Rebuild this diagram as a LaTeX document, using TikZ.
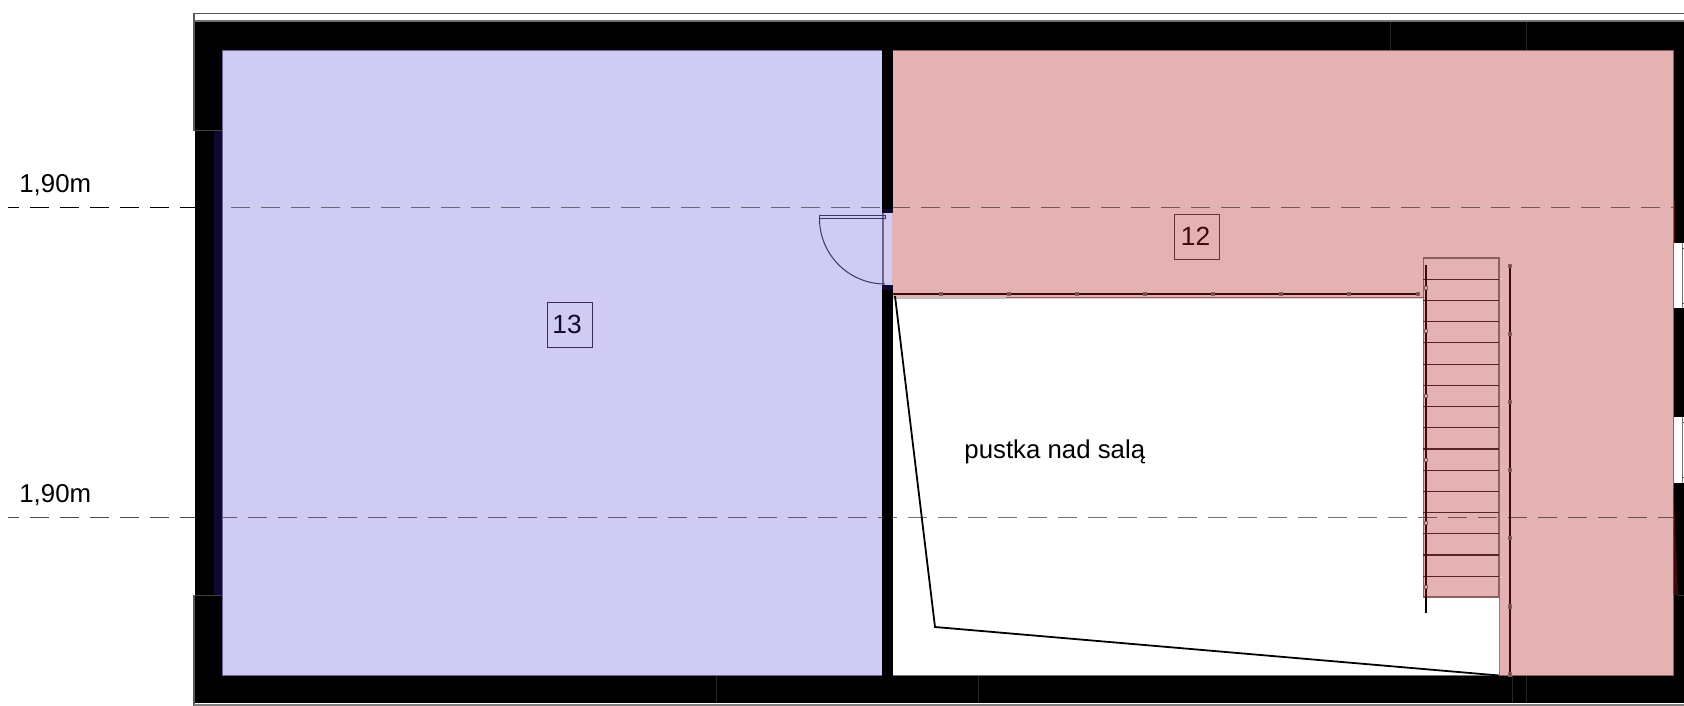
\documentclass[tikz,border=0pt]{standalone}
\usepackage{fontspec}
\setmainfont{Liberation Sans}
\definecolor{roomP}{HTML}{D0CBF2}
\definecolor{roomR}{HTML}{E4B2B2}
\definecolor{edgeP}{HTML}{6A6496}
\definecolor{edgeR}{HTML}{8E5F62}
\definecolor{inkP}{HTML}{100830}
\definecolor{inkR}{HTML}{3C0A0A}
\definecolor{doorInk}{HTML}{3A3566}
\tikzset{
  wall/.style={fill=black,draw=none},
  joint/.style={draw=black!85!white,line width=.3pt},
  tagbox/.style={draw,line width=.65pt,minimum size=22.6bp,inner sep=0pt},
  tagtext/.style={inner sep=0pt,font=\fontsize{13.2pt}{15pt}\selectfont},
  plain/.style={inner sep=0pt,font=\fontsize{12.95pt}{15pt}\selectfont,text=black,anchor=base west},
  level/.style={line width=.6pt,dash pattern=on 9.5bp off 5.5bp},
  tread/.style={draw=inkR!85!roomR,line width=.6pt},
  rail/.style={draw=inkR,line width=.9pt},
  postO/.style={draw=edgeR,fill=roomR,line width=.4pt},
  postF/.style={draw=edgeR,fill=edgeR!70!inkR,line width=.4pt},
  edgeline/.style={line width=.5pt}
}
\begin{document}
\begin{tikzpicture}[x=0.5bp,y=-0.5bp]
\useasboundingbox (0,0) rectangle (1684,706);
\fill[white] (0,0) rectangle (1684,706);
% rooms
\fill[roomP] (222.5,50) rectangle (882,675.5);
\fill[roomR] (892,50) -- (1673,50) -- (1673,675.5) -- (1499,675.5) -- (1499,597) -- (1423,597) -- (1423,298.5) -- (892,298.5) -- cycle;
% level lines
\draw[level,black,opacity=.5] (201.4,207.7) -- (1673,207.7);
\draw[level,black,opacity=.55] (218,517.7) -- (1673,517.7);
\draw[level,black,dash phase=4bp] (8,207.7) -- (195,207.7);
\draw[level,black!70,dash phase=4bp] (8,517.7) -- (195,517.7);
% room outlines
\draw[edgeP,edgeline] (222.5,50) rectangle (882,675.5);
\draw[edgeR,edgeline] (1673,50) -- (1673,675.5) -- (1499,675.5);
\draw[edgeR,edgeline] (892,50) -- (1673,50);
\draw[black!50,edgeline] (1499,597) -- (1499,675.5) (1423,298.5) -- (1423,597);
\draw[edgeR,line width=.7pt] (940,297.5) -- (1423,297.5);
\draw[black!25,line width=.7pt] (893,298) -- (1006,298);
\draw[black!55,edgeline] (892,675.5) -- (1499,675.5);
% walls
\fill[wall] (195,22) rectangle (1684,50);
\fill[wall] (195,50) rectangle (222,130);
\fill[wall] (195,130) rectangle (214,595);
\fill[inkP] (214,130) rectangle (222,595);
\fill[wall] (195,595) rectangle (222,703);
\fill[wall] (195,676) rectangle (1684,703);
\fill[wall] (882,50) rectangle (892.5,212);
\fill[wall] (882,287) rectangle (892.5,676);
\fill[wall] (1674,50) rectangle (1684,243.3);
\fill[wall] (1674,308) rectangle (1684,417);
\fill[wall] (1674,482.7) rectangle (1684,703);
\fill[inkR] (1673.5,200) rectangle (1675,243.3);
\fill[inkR] (1673.5,482.7) -- (1678,595) -- (1673.5,595) -- cycle;
\draw[black!80,line width=.3pt] (1678,595) -- (1684,595);
% window jambs
\draw[black!55,line width=.6pt] (1682.5,243.3) -- (1682.5,308) (1682.5,417) -- (1682.5,482.7);
\foreach \wy in {248,303,422,477}{\draw[black!65,line width=.5pt] (1682,\wy) -- (1684,\wy);}
% wall top lines
\draw[black!65,line width=.9pt] (194,13.5) -- (1684,13.5);
\draw[black!55,line width=1.2pt] (194,21) -- (1684,21);
\draw[black!65,line width=.9pt] (194,13) -- (194,131);
\draw[black!65,line width=.9pt] (194,595) -- (194,706);
\draw[black!50,line width=.7pt] (194,704.8) -- (1684,704.8);
% joints
\foreach \jx in {1390.5,1526}{\draw[joint] (\jx,22) -- (\jx,50);}
\foreach \jx in {716,978,1512.5,1526}{\draw[joint] (\jx,676) -- (\jx,703);}
\draw[black!75,line width=.3pt] (195,130) -- (222,130) (195,595) -- (222,595);
% door
\fill[roomP] (883,212) rectangle (892,287);
\draw[edgeP,line width=.6pt] (883,212) -- (883,287);
\fill[inkP] (881.5,209) rectangle (893,213);
\fill[inkP] (881.5,285) rectangle (893,290);
\draw[doorInk,line width=.5pt] (819.5,215.5) rectangle (885,218.5);
\draw[doorInk,line width=.5pt] (819.5,218.5) arc[start angle=180,end angle=90,radius=65.5];
% stairs
\draw[edgeR,line width=.6pt] (1423.5,258) rectangle (1499,597);
\foreach \k in {0,...,14}{\draw[tread] (1423,279.3+21.2*\k) -- (1499,279.3+21.2*\k);}
% railings
\draw[rail] (893,294) -- (1420,294);
\foreach \rx in {941,1009,1077,1145,1213,1281,1349,1418}{\filldraw[postF] (\rx-1.7,292.3) rectangle (\rx+1.7,295.7);}
\draw[rail] (1426,265) -- (1426,597);
\draw[black,line width=.9pt] (1426,597) -- (1426,613);
\foreach \ry in {288,331,396,460,523,587}{\filldraw[postO] (1424.3,\ry-1.7) rectangle (1427.7,\ry+1.7);}
\draw[rail] (1510,265) -- (1510,675);
\foreach \ry in {266,334,402,470,538,606.5,674.5}{\filldraw[postF] (1508.3,\ry-1.7) rectangle (1511.7,\ry+1.7);}
% void outline
\coordinate (v1) at (895,296);
\coordinate (v2) at (935,627);
\coordinate (v3) at (1499,675.5);
\draw[black,line width=.9pt] (v1) -- (v2) -- (v3);
% labels
\node[tagbox,draw=inkR!75!roomR] (tag12) at (1197,237) {};
\node[tagtext,text=inkR] (num12) at (1195.5,236.5) {12};
\node[tagbox,draw=inkP!80!roomP] (tag13) at (570,325) {};
\node[tagtext,text=inkP] (num13) at (567,324.5) {13};
\node[plain] (lev1) at (19,192.5) {1,90m};
\node[plain] (lev2) at (19,502) {1,90m};
\node[plain] (void) at (964,458) {pustka nad salą};
\end{tikzpicture}
\end{document}
